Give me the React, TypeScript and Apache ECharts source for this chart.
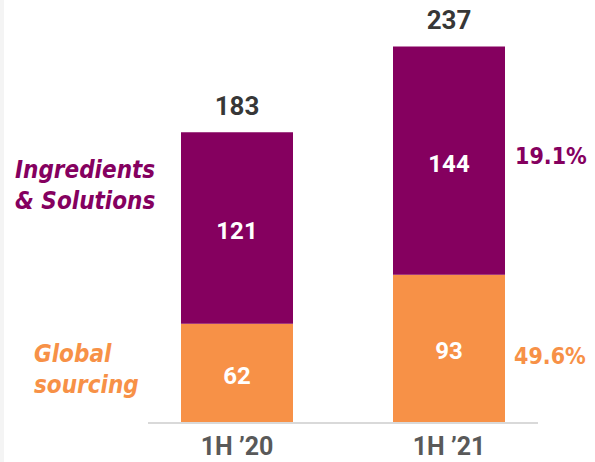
import React, { useEffect, useRef } from "react";
import * as echarts from "echarts";

const categories = ["1H \u201920", "1H \u201921"];
const globalSourcing = [62, 93];
const ingredients = [121, 144];
const totals = [183, 237];
const growth = ["19.1%", "49.6%"];

const PURPLE = "#85005f";
const ORANGE = "#f79147";

export default function App() {
  const ref = useRef<HTMLDivElement>(null);
  useEffect(() => {
    document.body.style.margin = "0";
    const chart = echarts.init(ref.current!, null, { renderer: "svg" });
    const labelFont = "Roboto, 'Liberation Sans', Arial, sans-serif";
    const sideFont = "'DejaVu Sans Condensed', 'DejaVu Sans', sans-serif";
    chart.setOption({
      animation: false,
      backgroundColor: "#ffffff",
      grid: { left: 131, width: 424, top: 26, bottom: 40 },
      xAxis: {
        type: "category",
        data: categories,
        axisLine: { show: false },
        axisTick: { show: false },
        axisLabel: {
          color: "#595959",
          fontSize: 25,
          fontWeight: "bold",
          fontFamily: labelFont,
          margin: 12,
        },
      },
      yAxis: { type: "value", min: 0, max: 250, show: false },
      series: [
        {
          name: "Global sourcing",
          type: "bar",
          stack: "s",
          barWidth: 112,
          data: globalSourcing,
          itemStyle: { color: ORANGE },
          label: {
            show: true,
            position: "inside",
            color: "#fff",
            fontSize: 24,
            fontWeight: "bold",
            fontFamily: labelFont,
            offset: [0, 3],
          },
        },
        {
          name: "Ingredients & Solutions",
          type: "bar",
          stack: "s",
          barWidth: 112,
          data: ingredients,
          itemStyle: { color: PURPLE },
          label: {
            show: true,
            position: "inside",
            color: "#fff",
            fontSize: 24,
            fontWeight: "bold",
            fontFamily: labelFont,
            offset: [0, 3],
          },
        },
        {
          name: "Total",
          type: "scatter",
          data: totals,
          symbolSize: 1,
          itemStyle: { color: "rgba(0,0,0,0)" },
          label: {
            show: true,
            position: "top",
            distance: 13,
            color: "#000",
            fontSize: 26,
            fontWeight: "bold",
            fontFamily: labelFont,
          },
        },
      ],
      graphic: [
        { type: "rect", shape: { x: 0, y: 0, width: 4, height: 462 }, style: { fill: "#f4f4f4" } },
        {
          type: "line",
          shape: { x1: 148, y1: 423, x2: 538, y2: 423 },
          style: { stroke: "#d9d9d9", lineWidth: 2 },
        },
        {
          type: "text",
          x: 15,
          y: 154,
          style: {
            text: "Ingredients\n& Solutions",
            fill: PURPLE,
            font: `italic bold 24px ${sideFont}`,
            lineHeight: 31,
          },
        },
        {
          type: "text",
          x: 34,
          y: 338,
          style: {
            text: "Global\nsourcing",
            fill: ORANGE,
            font: `italic bold 24px ${sideFont}`,
            lineHeight: 31,
          },
        },
        {
          type: "text",
          x: 515,
          y: 144,
          style: { text: growth[0], fill: PURPLE, font: `bold 23px ${sideFont}` },
        },
        {
          type: "text",
          x: 514,
          y: 344,
          style: { text: growth[1], fill: ORANGE, font: `bold 23px ${sideFont}` },
        },
      ],
    });
    return () => chart.dispose();
  }, []);
  return <div ref={ref} style={{ width: 595, height: 462 }} />;
}
